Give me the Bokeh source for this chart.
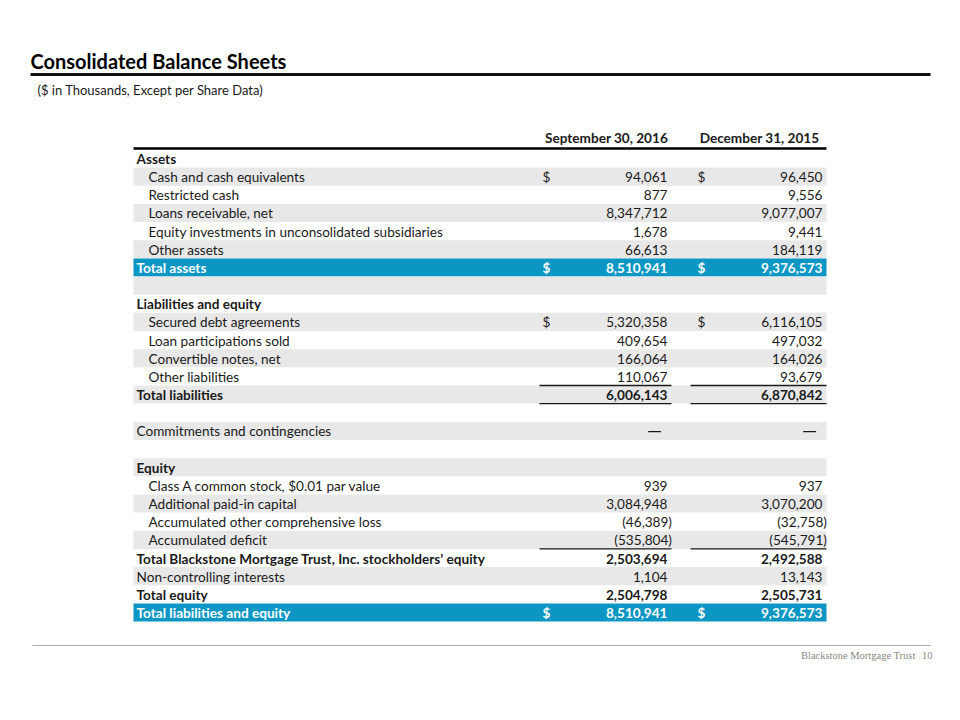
from bokeh.plotting import figure
from bokeh.models import Range1d, ColumnDataSource
from bokeh.core.properties import value
from bokeh.embed import file_html
from bokeh.resources import INLINE

# ---------------- data ----------------
row_labels = [
    "Assets",
    "Cash and cash equivalents",
    "Restricted cash",
    "Loans receivable, net",
    "Equity investments in unconsolidated subsidiaries",
    "Other assets",
    "Total assets",
    "",
    "Liabilities and equity",
    "Secured debt agreements",
    "Loan participations sold",
    "Convertible notes, net",
    "Other liabilities",
    "Total liabilities",
    "",
    "Commitments and contingencies",
    "",
    "Equity",
    "Class A common stock, $0.01 par value",
    "Additional paid-in capital",
    "Accumulated other comprehensive loss",
    "Accumulated deficit",
    "Total Blackstone Mortgage Trust, Inc. stockholders\u2019 equity",
    "Non-controlling interests",
    "Total equity",
    "Total liabilities and equity",
]
row_kind = [
    "head", "item", "item", "item", "item", "item", "highlight", "blank",
    "head", "item", "item", "item", "item", "total", "blank",
    "plain", "blank", "head", "item", "item", "item", "item",
    "total", "plain", "total", "highlight",
]
sep_2016 = [None, 94061, 877, 8347712, 1678, 66613, 8510941, None,
            None, 5320358, 409654, 166064, 110067, 6006143, None,
            0, None, None, 939, 3084948, -46389, -535804,
            2503694, 1104, 2504798, 8510941]
dec_2015 = [None, 96450, 9556, 9077007, 9441, 184119, 9376573, None,
            None, 6116105, 497032, 164026, 93679, 6870842, None,
            0, None, None, 937, 3070200, -32758, -545791,
            2492588, 13143, 2505731, 9376573]
dollar_rows = ["Cash and cash equivalents", "Total assets",
               "Secured debt agreements", "Total liabilities and equity"]
col_headers = ["September 30, 2016", "December 31, 2015"]
underline_above = ["Total liabilities",
                   "Total Blackstone Mortgage Trust, Inc. stockholders\u2019 equity"]
underline_below = ["Total liabilities"]

title = "Consolidated Balance Sheets"
subtitle = "($ in Thousands, Except per Share Data)"
footer = "Blackstone Mortgage Trust"
page_no = "10"

# ---------------- layout ----------------
FONT = "Lato"
BLUE = "#0b96c4"
GREY = "#e8e8e8"
ROW0 = 158.0
ROW_H = 18.16
T_LEFT, T_RIGHT = 133, 826
COLS = [dict(dollar=542, right=667, line_l=539, line_r=671),
        dict(dollar=697, right=822, line_l=690, line_r=826)]
BODY = "13.6px"
NUMS = "13.6px"

p = figure(width=944, height=704, x_range=Range1d(0, 944), y_range=Range1d(704, 0),
           output_backend="svg", toolbar_location=None, min_border=0)
p.axis.visible = False
p.grid.visible = False
p.outline_line_color = None
p.background_fill_color = "white"


def yc(i):
    return ROW0 + i * ROW_H


def fmt(v):
    if v is None:
        return ""
    if v == 0:
        return "\u2014"
    if v < 0:
        return "({:,})".format(-v)
    return "{:,}".format(v)


# row bands
n = len(row_labels)
band = dict(left=[], right=[], top=[], bottom=[], color=[])
for i in range(n):
    if row_kind[i] == "highlight":
        c = BLUE
    elif i % 2 == 1:
        c = GREY
    else:
        continue
    band["left"].append(T_LEFT)
    band["right"].append(T_RIGHT)
    band["top"].append(yc(i) - ROW_H / 2)
    band["bottom"].append(yc(i) + ROW_H / 2)
    band["color"].append(c)
p.quad(left="left", right="right", top="top", bottom="bottom", color="color",
       line_color=None, source=ColumnDataSource(band))

# labels
lab = dict(x=[], y=[], text=[], style=[], color=[])
for i in range(n):
    if not row_labels[i]:
        continue
    k = row_kind[i]
    lab["x"].append(148 if k == "item" else 136)
    lab["y"].append(yc(i) + 0.5)
    lab["text"].append(row_labels[i])
    lab["style"].append("bold" if k in ("head", "total", "highlight") else "normal")
    lab["color"].append("white" if k == "highlight" else "#1a1a1a")
p.text(x="x", y="y", text="text", text_font_style="style", text_color="color",
       text_font=value(FONT), text_font_size=BODY, text_baseline="middle",
       text_align="left", source=ColumnDataSource(lab))

# numbers and dollar signs
num = dict(x=[], y=[], text=[], style=[], color=[], align=[])
dash = dict(x=[], y=[], text=[])
for ci, series in enumerate([sep_2016, dec_2015]):
    col = COLS[ci]
    for i in range(n):
        v = series[i]
        if v is None:
            continue
        k = row_kind[i]
        style = "bold" if k in ("total", "highlight") else "normal"
        color = "white" if k == "highlight" else "#1a1a1a"
        if v == 0:
            dash["x"].append(col["right"] - 6)
            dash["y"].append(yc(i))
            dash["text"].append(fmt(v))
            continue
        xr = col["right"] + 4.5 if v < 0 else col["right"]
        num["x"].append(xr)
        num["y"].append(yc(i) + 0.5)
        num["text"].append(fmt(v))
        num["style"].append(style)
        num["color"].append(color)
        num["align"].append("right")
        if row_labels[i] in dollar_rows:
            num["x"].append(col["dollar"])
            num["y"].append(yc(i) + 0.5)
            num["text"].append("$")
            num["style"].append(style)
            num["color"].append(color)
            num["align"].append("left")
p.text(x="x", y="y", text="text", text_font_style="style", text_color="color",
       text_align="align", text_font=value(FONT), text_font_size=NUMS,
       text_baseline="middle", source=ColumnDataSource(num))
p.text(x="x", y="y", text="text", text_color="#1a1a1a", text_align="right",
       text_font=value("Open Sans"), text_font_size="14px", text_baseline="middle",
       source=ColumnDataSource(dash))

# column headers
p.text(x=[(c["line_l"] + c["line_r"]) / 2 + 1 for c in COLS], y=[yc(0) - 21] * 2,
       text=col_headers, text_font=value(FONT), text_font_size=BODY,
       text_font_style="bold", text_align="center", text_baseline="middle",
       text_color="#1a1a1a")

# thick line under header
p.segment(x0=[T_LEFT], x1=[T_RIGHT], y0=[yc(0) - ROW_H / 2 - 1],
          y1=[yc(0) - ROW_H / 2 - 1], line_color="black", line_width=2.5)

# underlines
ul = dict(x0=[], x1=[], y=[])
for i in range(n):
    for c in COLS:
        if row_labels[i] in underline_above:
            ul["x0"].append(c["line_l"]); ul["x1"].append(c["line_r"])
            ul["y"].append(yc(i) - ROW_H / 2)
        if row_labels[i] in underline_below:
            ul["x0"].append(c["line_l"]); ul["x1"].append(c["line_r"])
            ul["y"].append(yc(i) + ROW_H / 2)
p.segment(x0="x0", x1="x1", y0="y", y1="y", line_color="#1a1a1a", line_width=1.3,
          source=ColumnDataSource(ul))

# title
p.text(x=[30], y=[60], text=[title], text_font=value(FONT), text_font_size="20px",
       text_font_style="bold", text_baseline="middle", text_color="black")
p.segment(x0=[30], x1=[930], y0=[74], y1=[74], line_color="#111111", line_width=3)
p.text(x=[37], y=[89], text=[subtitle], text_font=value(FONT), text_font_size="13px",
       text_baseline="middle", text_color="#1a1a1a")

# footer
p.segment(x0=[32], x1=[930], y0=[645], y1=[645], line_color="#b0b0b0", line_width=1.2)
p.text(x=[915, 932], y=[655, 655], text=[footer, page_no],
       text_font=value("Liberation Serif"), text_font_size="10.5px",
       text_align="right", text_baseline="middle", text_color="#888888")

open("out.html", "w").write(file_html(p, INLINE))
